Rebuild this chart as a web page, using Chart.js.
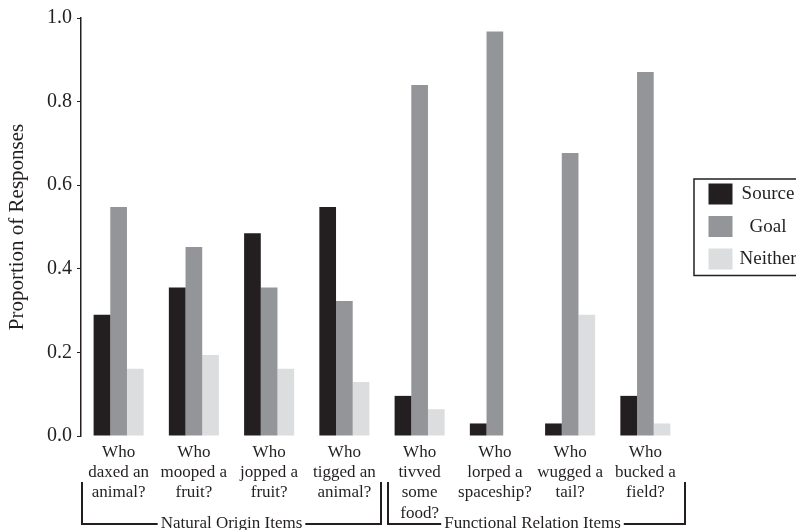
<!DOCTYPE html>
<html>
<head>
<meta charset="utf-8">
<script src="https://cdn.jsdelivr.net/npm/chart.js@4"></script>
<style>
  body { margin: 0; background: #fff; }
</style>
</head>
<body>
<canvas id="responseChart" width="796" height="530"></canvas>
<script>
const questions = [
  ['Who', 'daxed an', 'animal?'],
  ['Who', 'mooped a', 'fruit?'],
  ['Who', 'jopped a', 'fruit?'],
  ['Who', 'tigged an', 'animal?'],
  ['Who', 'tivved', 'some', 'food?'],
  ['Who', 'lorped a', 'spaceship?'],
  ['Who', 'wugged a', 'tail?'],
  ['Who', 'bucked a', 'field?']
];
const sourceValues = [0.29, 0.355, 0.485, 0.548, 0.096, 0.03, 0.03, 0.096];
const goalValues = [0.548, 0.452, 0.355, 0.323, 0.84, 0.968, 0.677, 0.871];
const neitherValues = [0.161, 0.194, 0.161, 0.129, 0.064, 0, 0.29, 0.03];
const yTicks = [0, 0.2, 0.4, 0.6, 0.8, 1.0];
const groupNames = ['Natural Origin Items', 'Functional Relation Items'];
const groupFirst = [0, 4];
const groupLast = [3, 7];

const ink = '#231f20';
const serif = '"Liberation Serif", "Times New Roman", serif';

// brackets under the question labels
const groupBrackets = {
  id: 'groupBrackets',
  afterDraw(chart) {
    const { ctx, scales: { x } } = chart;
    const half = (x.getPixelForValue(1) - x.getPixelForValue(0)) / 2;
    const textShift = [0, -4];
    const top = 482, bottom = 524;
    ctx.save();
    ctx.strokeStyle = ink;
    ctx.lineWidth = 2;
    ctx.fillStyle = ink;
    ctx.font = '17px ' + serif;
    ctx.textAlign = 'center';
    ctx.textBaseline = 'alphabetic';
    groupNames.forEach((name, i) => {
      let left = x.getPixelForValue(groupFirst[i]) - half;
      let right = x.getPixelForValue(groupLast[i]) + half;
      left += i === 0 ? 1 : 6;
      right += i === 0 ? -1 : 2;
      const cx = (left + right) / 2 + textShift[i];
      const w = ctx.measureText(name).width;
      ctx.beginPath();
      ctx.moveTo(left, top);
      ctx.lineTo(left, bottom);
      ctx.lineTo(cx - w / 2 - 3, bottom);
      ctx.moveTo(cx + w / 2 + 3, bottom);
      ctx.lineTo(right, bottom);
      ctx.lineTo(right, top);
      ctx.stroke();
      ctx.fillText(name, cx, bottom + 4);
    });
    ctx.restore();
  }
};

// boxed legend on the right
const boxLegend = {
  id: 'boxLegend',
  afterDraw(chart) {
    const { ctx, chartArea } = chart;
    const bx = chartArea.right + 11, by = 179;
    ctx.save();
    ctx.strokeStyle = ink;
    ctx.lineWidth = 1.5;
    ctx.strokeRect(bx, by, 120, 96.5);
    ctx.font = '19px ' + serif;
    ctx.textAlign = 'center';
    ctx.textBaseline = 'middle';
    chart.data.datasets.forEach((ds, i) => {
      const sy = by + 4.5 + i * 32.5;
      ctx.fillStyle = ds.backgroundColor;
      ctx.fillRect(bx + 14.5, sy, 24, 21);
      ctx.fillStyle = ink;
      ctx.fillText(ds.label, bx + 74, sy + 11);
    });
    ctx.restore();
  }
};

new Chart(document.getElementById('responseChart'), {
  type: 'bar',
  data: {
    labels: questions,
    datasets: [
      { label: 'Source', data: sourceValues, backgroundColor: '#231f20' },
      { label: 'Goal', data: goalValues, backgroundColor: '#939598' },
      { label: 'Neither', data: neitherValues, backgroundColor: '#dcdddf' }
    ]
  },
  plugins: [groupBrackets, boxLegend],
  options: {
    responsive: false,
    animation: false,
    layout: { padding: { top: 18, right: 113, left: 0, bottom: 0 } },
    datasets: { bar: { barPercentage: 1, categoryPercentage: 0.665 } },
    plugins: {
      legend: { display: false },
      tooltip: { enabled: false }
    },
    scales: {
      x: {
        grid: { display: false },
        border: { display: false },
        ticks: {
          autoSkip: false,
          maxRotation: 0,
          padding: -2,
          color: ink,
          font: { family: serif, size: 17, lineHeight: 1.2 }
        },
        afterFit(scale) { scale.height = 94; }
      },
      y: {
        min: 0,
        max: 1,
        afterBuildTicks(scale) { scale.ticks = yTicks.map(v => ({ value: v })); },
        ticks: {
          padding: 5,
          color: ink,
          font: { family: serif, size: 20 },
          callback: v => v.toFixed(1)
        },
        grid: { drawOnChartArea: false, drawTicks: true, tickLength: 4, color: ink, lineWidth: 1 },
        border: { display: true, color: ink, width: 1.5 },
        title: {
          display: true,
          text: 'Proportion of Responses',
          color: ink,
          font: { family: serif, size: 21 },
          padding: { top: 5, bottom: 0 }
        },
        afterFit(scale) { scale.width = 81; }
      }
    }
  }
});
</script>
</body>
</html>
